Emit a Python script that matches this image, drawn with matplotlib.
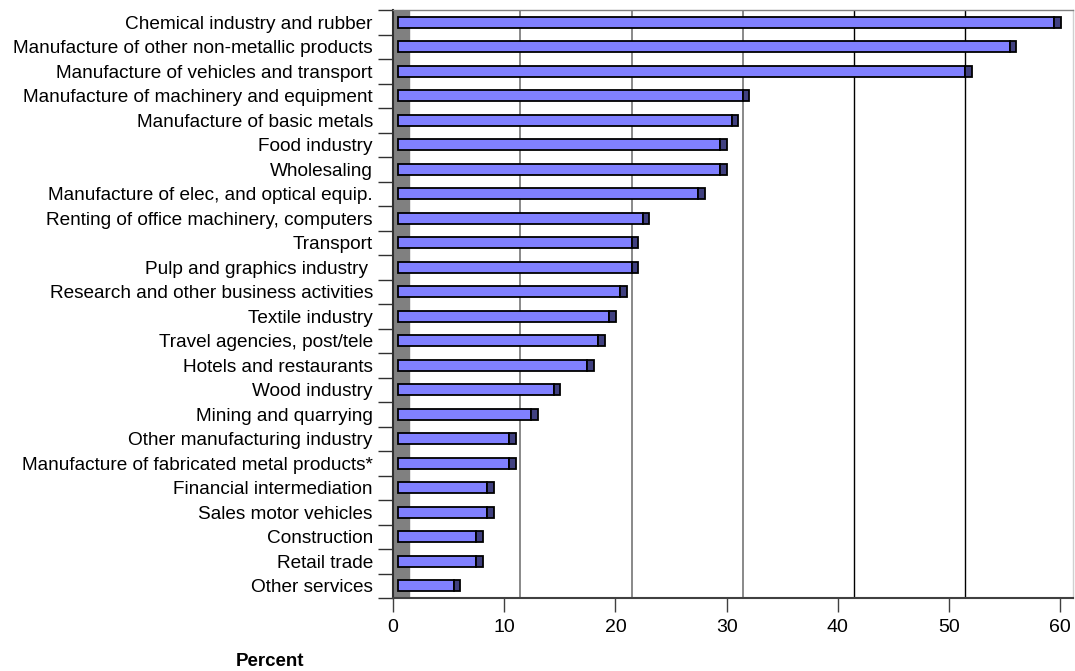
import numpy as np
import matplotlib
matplotlib.use("Agg")
import matplotlib.pyplot as plt

plt.rcParams["font.family"] = ["Liberation Sans", "DejaVu Sans"]

# data (top to bottom)
categories = [
    "Chemical industry and rubber",
    "Manufacture of other non-metallic products",
    "Manufacture of vehicles and transport",
    "Manufacture of machinery and equipment",
    "Manufacture of basic metals",
    "Food industry",
    "Wholesaling",
    "Manufacture of elec, and optical equip.",
    "Renting of office machinery, computers",
    "Transport",
    "Pulp and graphics industry ",
    "Research and other business activities",
    "Textile industry",
    "Travel agencies, post/tele",
    "Hotels and restaurants",
    "Wood industry",
    "Mining and quarrying",
    "Other manufacturing industry",
    "Manufacture of fabricated metal products*",
    "Financial intermediation",
    "Sales motor vehicles",
    "Construction",
    "Retail trade",
    "Other services",
]
values = [59, 55, 51, 31, 30, 29, 29, 27, 22, 21, 21, 20, 19, 18, 17, 14, 12,
          10, 10, 8, 8, 7, 7, 5]
xticks = [0, 10, 20, 30, 40, 50, 60]

# fake 3d depth settings (in data units)
DEPTH = 1.45
FRONT = 0.45
CAP = 0.6

W, H = 1075, 671
fig = plt.figure(figsize=(W / 100, H / 100), dpi=100)
ax = fig.add_axes([393 / W, (H - 598) / H, (1073 - 393) / W, (598 - 10) / H])

n = len(categories)
y = np.arange(n)
vals = np.array(values, dtype=float)

ax.set_xlim(0, 680 / 11.12)
ax.set_ylim(n - 0.5, -0.5)

# back wall strip and gridlines pushed back by the depth
ax.axvspan(0, DEPTH, color="#808080", zorder=1)
for t in xticks[1:-1]:
    col = "#808080" if t < 40 else "black"
    ax.axvline(t + DEPTH, color=col, lw=1.3 if t < 40 else 1.0, zorder=1)

ax.barh(y, vals, left=FRONT, height=0.45, color="#8080FF",
        edgecolor="black", linewidth=1.3, zorder=3)
ax.barh(y, CAP, left=vals + FRONT, height=0.45, color="#404080",
        edgecolor="black", linewidth=1.3, zorder=3)

for side in ["top", "right"]:
    ax.spines[side].set_color("#808080" if side == "top" else "#d0d0d0")
    ax.spines[side].set_linewidth(1.0)
ax.spines["left"].set_color("#303030")
ax.spines["left"].set_linewidth(1.5)
ax.spines["bottom"].set_color("#404040")
ax.spines["bottom"].set_linewidth(1.5)

ax.set_xticks(xticks)
ax.set_xticklabels([str(t) for t in xticks])
ax.tick_params(axis="x", direction="out", length=10, width=1.0,
               color="#404040", pad=5, labelsize=14)

ax.set_yticks(y)
ax.set_yticklabels(categories)
ax.set_yticks(np.arange(n + 1) - 0.5, minor=True)
ax.tick_params(axis="y", which="major", length=0, pad=14.5, labelsize=13.7)
ax.tick_params(axis="y", which="minor", direction="out", length=11,
               width=1.0, color="#303030")

fig.text(270 / W, 1 - 661 / H, "Percent", fontsize=13.5, fontweight="bold",
         ha="center", va="center")

fig.savefig("out.png", dpi=100)
